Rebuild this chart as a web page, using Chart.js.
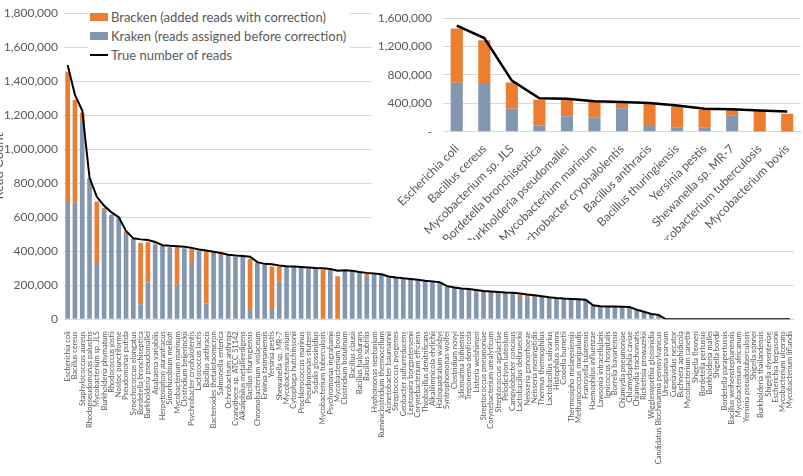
<!DOCTYPE html>
<html><head><meta charset="utf-8">
<script src="https://cdn.jsdelivr.net/npm/chart.js@4.4.1/dist/chart.umd.min.js"></script>
<style>
html,body{margin:0;padding:0;background:#fff;overflow:hidden;}
body{width:803px;height:476px;position:relative;font-family:Lato,"Liberation Sans",sans-serif;}
#mainWrap{position:absolute;left:-9px;top:0;width:812px;height:476px;}
#insetWrap{position:absolute;left:372px;top:0;width:431px;height:240px;background:#fff;}
#legend{position:absolute;left:88px;top:8px;width:262px;height:57px;background:#fff;color:#595959;font-size:13px;}
#legend .row{position:absolute;left:2px;height:19px;line-height:19px;white-space:nowrap;}
#legend .box{position:absolute;left:0;top:5px;width:18px;height:8px;}
#legend .ln{position:absolute;left:0;top:8px;width:18px;height:2px;background:#000;}
#legend .txt{position:absolute;left:21px;top:0;}
</style></head>
<body>
<div id="mainWrap"><canvas id="main" width="812" height="476"></canvas></div>
<div id="legend">
  <div class="row" style="top:0px"><span class="box" style="background:#ED7D31"></span><span class="txt">Bracken (added reads with correction)</span></div>
  <div class="row" style="top:19px"><span class="box" style="background:#8497B0"></span><span class="txt">Kraken (reads assigned before correction)</span></div>
  <div class="row" style="top:38px"><span class="ln"></span><span class="txt">True number of reads</span></div>
</div>
<div id="insetWrap"><canvas id="inset" width="431" height="240"></canvas></div>
<script>
const species = [
"Escherichia coli","Bacillus cereus","Staphylococcus aureus","Rhodopseudomonas palustris","Mycobacterium sp. JLS",
"Burkholderia phymatum","Rhodococcus jostii","Nostoc punctiforme","Pseudomonas putida","Synechococcus elongatus",
"Bordetella bronchiseptica","Burkholderia pseudomallei","Anabaena variabilis","Herpetosiphon aurantiacus","Sinorhizobium meliloti",
"Mycobacterium marinum","Clostridium beijerinckii","Psychrobacter cryohalolentis","Lactococcus lactis","Bacillus anthracis",
"Bacteroides thetaiotaomicron","Salmonella enterica","Ochrobactrum anthropi","Cyanothece sp. ATCC 51142","Alkaliphilus metalliredigens",
"Bacillus thuringiensis","Chromobacterium violaceum","Erwinia tasmaniensis","Yersinia pestis","Shewanella sp. MR-7",
"Mycobacterium avium","Cytophaga hutchinsonii","Prochlorococcus marinus","Pseudomonas stutzeri","Sodalis glossinidius",
"Mycobacterium tuberculosis","Psychromonas ingrahamii","Mycobacterium bovis","Clostridium botulinum","Bacillus clausii",
"Bacillus halodurans","Bacillus subtilis","Hyphomonas neptunium","Ruminiclostridium thermocellum","Acinetobacter baumannii",
"Streptococcus pyogenes","Geobacter sulfurreducens","Leptospira borgpetersenii","Corynebacterium efficiens","Thiobacillus denitrificans",
"Alkalilimnicola ehrlichii","Haloquadratum walsbyi","Syntrophomonas wolfei","Clostridium novyi","Idiomarina loihiensis",
"Treponema denticola","Listeria welshimeri","Streptococcus pneumoniae","Corynebacterium urealyticum","Streptococcus agalactiae",
"Pelodictyon luteolum","Campylobacter concisus","Lactobacillus delbrueckii","Neisseria gonorrhoeae","Neisseria meningitidis",
"Thermus thermophilus","Lactobacillus salivarius","Histophilus somni","Coxiella burnetii","Thermosipho melanesiensis",
"Methanococcus maripaludis","Francisella tularensis","Haemophilus influenzae","Lawsonia intracellularis","Ignicoccus hospitalis",
"Borrelia bavariensis","Chlamydia pneumoniae","Chlamydophila caviae","Chlamydia trachomatis","Rickettsia prowazekii",
"Wigglesworthia glossinidia","Candidatus Blochmannia pennsylvanicus","Ureaplasma parvum","Cupriavidus necator","Buchnera aphidicola",
"Mycobacterium canettii","Shigella flexneri","Bordetella pertussis","Burkholderia mallei","Shigella boydii",
"Bordetella parapertussis","Bacillus weihenstephanensis","Mycobacterium africanum","Yersinia pseudotuberculosis","Shigella sonnei",
"Burkholderia thailandensis","Shigella dysenteriae","Escherichia fergusonii","Mycobacterium ulcerans","Mycobacterium liflandii"
];
const krakenReads = [
690000,685000,1165000,830000,325000, 645000,615000,598000,508000,472000,
88000,218000,440000,432000,424000, 203000,418000,332000,403000,93000,
395000,380000,376000,367000,368000, 54000,332000,322000,54000,224000,
309000,308000,303000,300000,298000, 3000,293000,3000,286000,284000,
274000,250000,265000,261000,242000, 245000,240000,236000,230000,226000,
222000,217000,192000,184000,178000, 176000,159000,165000,155000,160000,
157000,155000,125000,130000,140000, 134000,128000,124000,121000,119000,
117000,114000,80000,72000,75000, 74000,73000,72000,55000,43000,
30000,25000,0,0,0, 0,0,0,0,0, 0,0,0,0,0, 0,0,0,0,0
];
const brackenAdded = [
765000,605000,50000,0,368000, 10000,0,0,10000,0,
362000,235000,7000,0,0, 221000,0,84000,0,310000,
0,8000,0,0,0, 302000,0,0,256000,86000,
0,0,0,0,0, 290000,0,250000,0,0,
0,18000,0,0,12000, 0,0,0,0,0,
0,0,0,0,0, 0,12000,0,9000,0,
0,0,21000,14000,0, 0,0,0,0,0,
0,0,0,5000,0, 0,0,0,0,0,
0,0,0,0,0, 0,0,0,0,0, 0,0,0,0,0, 0,0,0,0,0
];
const trueReads = [
1495000,1320000,1228000,832000,720000, 668000,629000,601000,520000,476000,
470000,466000,455000,436000,432000, 429000,426000,420000,410000,405000,
397000,390000,380000,375000,372000, 368000,336000,326000,324000,316000,
312000,310000,308000,305000,301000, 300000,296000,285000,288000,285000,
278000,273000,269000,265000,252000, 246000,242000,237000,232000,227000,
223000,218000,195000,187000,181000, 178000,172000,166000,164000,161000,
158000,156000,152000,146000,141000, 135000,129000,125000,122000,120000,
118000,115000,82000,77000,76000, 75000,74000,73000,56000,44000,
31000,26000,0,0,0, 0,0,0,0,0, 0,0,0,0,0, 0,0,0,0,0
];
const mainTicks = [0,200000,400000,600000,800000,1000000,1200000,1400000,1600000,1800000];
const insetSpecies = [
"Escherichia coli","Bacillus cereus","Mycobacterium sp. JLS","Bordetella bronchiseptica","Burkholderia pseudomallei",
"Mycobacterium marinum","Psychrobacter cryohalolentis","Bacillus anthracis","Bacillus thuringiensis","Yersinia pestis",
"Shewanella sp. MR-7","Mycobacterium tuberculosis","Mycobacterium bovis"
];

const FONT = "Lato, 'Liberation Sans', sans-serif";
const GREY = '#595959', GRID = '#d9d9d9';
const ORANGE = '#ED7D31', BLUEGREY = '#8497B0';
const fmt = v => Number(v).toLocaleString('en-US');

function datasets(tr, kr, br, lw){
  return [
    {type:'line', label:'True number of reads', data:tr, borderColor:'#000', backgroundColor:'#000',
     borderWidth:lw, pointRadius:0, tension:0, stack:'line', order:0},
    {type:'bar', label:'Kraken (reads assigned before correction)', data:kr, backgroundColor:BLUEGREY, stack:'s', order:1},
    {type:'bar', label:'Bracken (added reads with correction)', data:br, backgroundColor:ORANGE, stack:'s', order:1}
  ];
}

new Chart(document.getElementById('main'), {
  type:'bar',
  data:{labels:species, datasets:datasets(trueReads, krakenReads, brackenAdded, 2)},
  options:{
    responsive:false, animation:false,
    datasets:{bar:{categoryPercentage:1, barPercentage:0.64}},
    layout:{padding:{top:7,right:3,left:0,bottom:0}},
    plugins:{legend:{display:false}, tooltip:{enabled:false}},
    scales:{
      x:{stacked:true, grid:{display:false}, border:{color:GRID},
         ticks:{autoSkip:false, minRotation:90, maxRotation:90, padding:4, color:GREY, font:{family:FONT,size:7.5}},
         afterFit:s=>{s.height=156.7;}},
      y:{stacked:true, min:0, max:1800000,
         afterBuildTicks:s=>{const t=[];for(let v=0;v<=1800000;v+=100000)t.push({value:v});s.ticks=t;},
         ticks:{padding:6, color:GREY, font:{family:FONT,size:12},
           callback:v=> mainTicks.includes(v)? fmt(v):''},
         grid:{color:GRID, drawTicks:false}, border:{display:false},
         title:{display:true, text:'Read Count', color:GREY, font:{family:FONT,size:13}, padding:0},
         afterFit:s=>{s.width=73;}}
    }
  }
});

const idx = n => species.indexOf(n);
const insetTrue = insetSpecies.map(n=>trueReads[idx(n)]);
const insetKraken = insetSpecies.map(n=>krakenReads[idx(n)]);
const insetBracken = insetSpecies.map(n=>brackenAdded[idx(n)]);

new Chart(document.getElementById('inset'), {
  type:'bar',
  data:{labels:insetSpecies, datasets:datasets(insetTrue, insetKraken, insetBracken, 2.5)},
  options:{
    responsive:false, animation:false,
    datasets:{bar:{categoryPercentage:1, barPercentage:0.44}},
    layout:{padding:{top:7,right:2,left:0,bottom:0}},
    plugins:{legend:{display:false}, tooltip:{enabled:false}},
    scales:{
      x:{stacked:true, grid:{display:false}, border:{color:GRID},
         ticks:{autoSkip:false, minRotation:45, maxRotation:45, padding:2, color:GREY, font:{family:FONT,size:12}},
         afterFit:s=>{s.height=240-131.7;}},
      y:{stacked:true, min:0, max:1600000,
         ticks:{stepSize:200000, padding:11, color:GREY, font:{family:FONT,size:12},
           callback:v=> v===0 ? '-' : fmt(v)},
         grid:{color:GRID, drawTicks:false}, border:{display:false},
         afterFit:s=>{s.width=71;}}
    }
  }
});
</script>
</body></html>
